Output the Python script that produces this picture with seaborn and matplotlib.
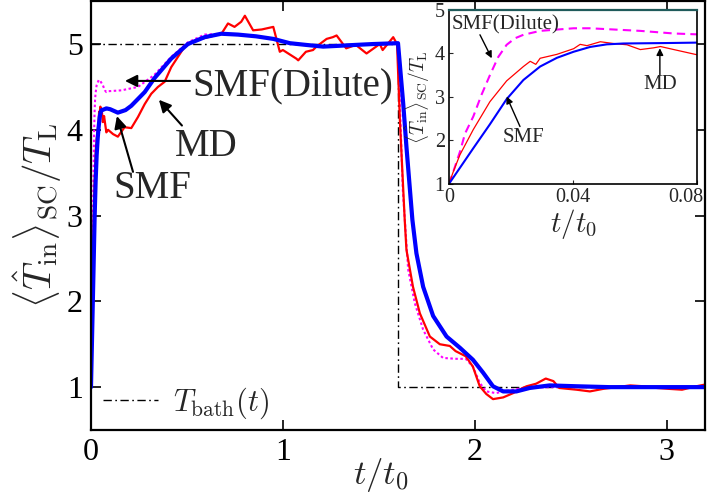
import numpy as np
import pandas as pd
import matplotlib
matplotlib.use("Agg")
import matplotlib.pyplot as plt
import matplotlib.transforms as mtransforms
import seaborn as sns

# ---------------- data ----------------
t_smf = [0, 0.00355, 0.00785, 0.0132, 0.0186, 0.024, 0.0294, 0.0348, 0.0402, 0.0455,
         0.0509, 0.0563, 0.07, 0.08, 0.1, 0.14, 0.18, 0.21, 0.28, 0.33, 0.418, 0.505,
         0.592, 0.679, 0.766, 0.86, 0.95, 1.036, 1.12, 1.21, 1.297, 1.38, 1.47, 1.6,
         1.627, 1.644, 1.675, 1.696, 1.731, 1.783, 1.853, 1.922, 1.99, 2.043, 2.095,
         2.148, 2.217, 2.286, 2.39, 2.53, 2.7, 2.9, 3.2]
v_smf = [1.0, 1.37, 1.82, 2.37, 2.95, 3.39, 3.70, 3.90, 4.04, 4.15,
         4.21, 4.23, 4.24, 4.25, 4.24, 4.20, 4.23, 4.28, 4.44, 4.60, 4.83, 5.00,
         5.08, 5.12, 5.11, 5.09, 5.06, 5.01, 4.99, 4.97, 4.98, 4.99, 5.00, 5.01,
         4.31, 3.80, 2.95, 2.56, 2.17, 1.83, 1.59, 1.46, 1.32, 1.17, 1.01,
         0.95, 0.95, 0.99, 1.02, 1.01, 1.00, 1.00, 1.00]

t_md = [0, 0.0014, 0.00355, 0.00785, 0.0132, 0.0186, 0.024, 0.0262, 0.028, 0.0294,
        0.0348, 0.0402, 0.0423, 0.0445, 0.0488, 0.053, 0.0574, 0.0617, 0.066, 0.0682,
        0.0725, 0.08, 0.089, 0.115, 0.14, 0.175, 0.21, 0.245, 0.28, 0.314, 0.349,
        0.384, 0.418, 0.453, 0.488, 0.522, 0.575, 0.627, 0.68, 0.714, 0.748, 0.783,
        0.802, 0.845, 0.89, 0.95, 0.984, 1.0, 1.07, 1.08, 1.12, 1.157, 1.175, 1.228,
        1.26, 1.28, 1.33, 1.38, 1.436, 1.505, 1.52, 1.575, 1.595, 1.61, 1.635, 1.644,
        1.678, 1.714, 1.766, 1.818, 1.87, 1.9, 1.953, 1.99, 2.026, 2.06, 2.095, 2.148,
        2.2, 2.25, 2.27, 2.32, 2.37, 2.41, 2.44, 2.53, 2.6, 2.67, 2.74, 2.81, 2.88,
        2.95, 3.01, 3.08, 3.155, 3.2]
v_md = [1.0, 1.28, 1.67, 2.25, 2.89, 3.37, 3.70, 3.82, 3.75, 3.89,
        3.98, 4.11, 4.21, 4.18, 4.27, 4.23, 4.20, 4.09, 4.13, 4.16,
        4.09, 3.97, 4.00, 3.95, 3.92, 4.03, 4.02, 4.15, 4.30, 4.42, 4.50,
        4.56, 4.73, 4.85, 4.97, 5.02, 5.06, 5.09, 5.12, 5.24, 5.20, 5.26,
        5.33, 5.16, 5.17, 5.20, 4.91, 4.93, 4.83, 4.81, 4.91, 4.93, 4.97, 5.06,
        5.08, 5.10, 4.95, 4.99, 4.89, 5.00, 4.93, 5.08, 5.00, 4.10, 2.95, 2.60,
        2.17, 1.86, 1.59, 1.50, 1.48, 1.42, 1.36, 1.24, 1.01, 0.92, 0.86, 0.88,
        0.93, 0.99, 1.01, 1.04, 1.10, 1.07, 0.99, 0.97, 0.95, 0.98, 1.00, 1.02, 1.01,
        0.99, 0.98, 0.97, 1.01, 1.03]

t_dil = [0, 0.0014, 0.00355, 0.0052, 0.00785, 0.0105, 0.0132, 0.0159, 0.0186, 0.0213,
         0.024, 0.0294, 0.0402, 0.0455, 0.0509, 0.0617, 0.0725, 0.08, 0.089, 0.158,
         0.245, 0.33, 0.418, 0.505, 0.592, 0.679, 0.766, 0.86, 0.95, 1.036, 1.12,
         1.21, 1.297, 1.38, 1.47, 1.6, 1.61, 1.625, 1.653, 1.6875, 1.731, 1.783,
         1.835, 1.905, 1.953, 1.99, 2.026, 2.06, 2.11, 2.15, 2.25, 2.4, 3.2]
v_dil = [1.0, 1.28, 1.74, 2.16, 2.55, 3.05, 3.50, 3.92, 4.20, 4.35,
         4.43, 4.52, 4.58, 4.58, 4.56, 4.52, 4.46, 4.44, 4.45, 4.46,
         4.50, 4.64, 4.85, 5.02, 5.11, 5.12, 5.11, 5.09, 5.06, 5.01, 4.99,
         4.97, 4.98, 4.99, 5.00, 5.00, 4.30, 3.30, 2.37, 1.98, 1.67, 1.44,
         1.34, 1.33, 1.33, 1.24, 1.05, 0.95, 0.93, 0.95, 0.99, 1.00, 1.00]

t_bath = [0, 1.6, 1.6, 3.2]
v_bath = [5, 5, 1, 1]

main_xticks = [0, 1, 2, 3]
main_yticks = [1, 2, 3, 4, 5]
inset_xticks = [0, 0.04, 0.08]
inset_xticklabels = ["0", "0.04", "0.08"]
inset_yticks = [1, 2, 3, 4, 5]

# ---------------- style ----------------
sns.set_theme(style="ticks")
SERIF = "Liberation Serif"
plt.rcParams["font.family"] = SERIF
plt.rcParams["mathtext.fontset"] = "cm"

df_smf = pd.DataFrame({"t": t_smf, "v": v_smf})
df_md = pd.DataFrame({"t": t_md, "v": v_md})
df_dil = pd.DataFrame({"t": t_dil, "v": v_dil})
df_bath = pd.DataFrame({"t": t_bath, "v": v_bath})

fig = plt.figure(figsize=(7.07, 5.01), dpi=100)
ax = fig.add_axes([0.1287, 0.1417, 0.8685, 0.856])

dashdot = (0, (6, 2.5, 1.2, 2.5))
sns.lineplot(data=df_bath, x="t", y="v", ax=ax, sort=False, estimator=None,
             color="black", lw=1.0, linestyle=dashdot, label=r"$T_{\rm bath}(t)$")
sns.lineplot(data=df_dil, x="t", y="v", ax=ax, sort=False, estimator=None,
             color="#ff00ff", lw=1.5, linestyle=(0, (1.2, 1.2)))
sns.lineplot(data=df_md, x="t", y="v", ax=ax, sort=False, estimator=None,
             color="#ff0000", lw=1.6)
sns.lineplot(data=df_smf, x="t", y="v", ax=ax, sort=False, estimator=None,
             color="#0000ff", lw=3.0)

ax.set_xlim(0, 3.2)
ax.set_ylim(0.5, 5.5)
ax.set_xticks(main_xticks)
ax.set_yticks(main_yticks)
ax.tick_params(direction="in", length=7, width=1.2, labelsize=23, pad=6,
               top=True, right=True, colors="black")
for lab in ax.get_xticklabels() + ax.get_yticklabels():
    lab.set_family(SERIF)
for s in ax.spines.values():
    s.set_linewidth(1.6)
    s.set_color("black")
ax.set_xlabel(r"$t/t_0$", fontsize=25)
ax.xaxis.set_label_coords(0.472, -0.06)
ax.set_ylabel(r"$\langle\hat{T}_{\rm in}\rangle_{\rm SC}/T_{\rm L}$", fontsize=28, labelpad=2)

leg = ax.legend(loc="lower left", frameon=False, fontsize=22, handlelength=1.8,
                handletextpad=0.5, borderaxespad=0.1, bbox_to_anchor=(-0.005, -0.015))

arrow_kw = dict(arrowstyle="-|>", color="black", lw=1.5, mutation_scale=18,
                shrinkA=0, shrinkB=0)
ax.annotate("", xy=(0.177, 4.57), xytext=(0.516, 4.57), arrowprops=arrow_kw)
ax.annotate("", xy=(0.354, 4.35), xytext=(0.474, 4.05), arrowprops=arrow_kw)
ax.annotate("", xy=(0.135, 4.16), xytext=(0.219, 3.51), arrowprops=arrow_kw)
ax.text(1.052, 4.51, "SMF(Dilute)", fontsize=28, ha="center", va="center", family=SERIF)
ax.text(0.599, 3.81, "MD", fontsize=28, ha="center", va="center", family=SERIF)
ax.text(0.318, 3.31, "SMF", fontsize=28, ha="center", va="center", family=SERIF)

# ---------------- inset ----------------
ins = fig.add_axes([0.635, 0.633, 0.351, 0.347])
sns.lineplot(data=df_dil, x="t", y="v", ax=ins, sort=False, estimator=None,
             color="#ff00ff", lw=1.5, linestyle=(0, (4, 2.5)))
sns.lineplot(data=df_md, x="t", y="v", ax=ins, sort=False, estimator=None,
             color="#ff0000", lw=0.9)
sns.lineplot(data=df_smf, x="t", y="v", ax=ins, sort=False, estimator=None,
             color="#0000ff", lw=1.5)
ins.set_xlim(0, 0.08)
ins.set_ylim(1, 5)
ins.set_xticks(inset_xticks)
ins.set_xticklabels(inset_xticklabels)
ins.set_yticks(inset_yticks)
ins.tick_params(direction="in", length=3, width=0.8, labelsize=14.5, pad=3)
for lab in ins.get_xticklabels() + ins.get_yticklabels():
    lab.set_family(SERIF)
# keep the last inset tick label inside the figure
last = ins.get_xticklabels()[-1]
last.set_horizontalalignment("right")
last.set_transform(last.get_transform() +
                   mtransforms.ScaledTranslation(6 / 100, 0, fig.dpi_scale_trans))
for s in ins.spines.values():
    s.set_linewidth(1.2)
    s.set_color("black")
ins.spines["top"].set_color("#1f5a5a")
ins.spines["top"].set_linewidth(1.6)
ins.set_xlabel(r"$t/t_0$", fontsize=21, labelpad=0)
ins.set_ylabel(r"$\langle\hat{T}_{\rm in}\rangle_{\rm SC}/T_{\rm L}$", fontsize=14, labelpad=2)

iarrow = dict(arrowstyle="-|>", color="black", lw=1.0, mutation_scale=10,
              shrinkA=0, shrinkB=0)
ins.annotate("", xy=(0.0138, 3.89), xytext=(0.0100, 4.43), arrowprops=iarrow)
ins.annotate("", xy=(0.0186, 3.01), xytext=(0.0229, 2.32), arrowprops=iarrow)
ins.annotate("", xy=(0.068, 4.12), xytext=(0.068, 3.51), arrowprops=iarrow)
ins.text(0.0184, 4.66, "SMF(Dilute)", fontsize=15, ha="center", va="center", family=SERIF)
ins.text(0.0239, 2.06, "SMF", fontsize=15, ha="center", va="center", family=SERIF)
ins.text(0.068, 3.28, "MD", fontsize=15, ha="center", va="center", family=SERIF)

fig.savefig("out.png", dpi=100)
